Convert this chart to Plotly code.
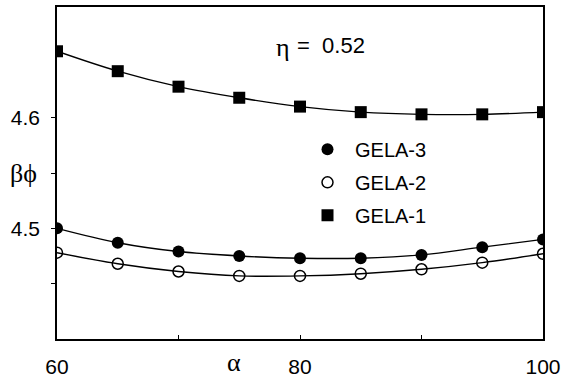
import plotly.graph_objects as go

# alpha (deg) and beta-phi for the three GELA configurations at eta = 0.52
alpha = [60, 65, 70, 75, 80, 85, 90, 95, 100]
gela1 = [4.660, 4.642, 4.628, 4.618, 4.610, 4.605, 4.603, 4.603, 4.605]
gela2 = [4.478, 4.468, 4.461, 4.457, 4.457, 4.459, 4.463, 4.469, 4.477]
gela3 = [4.500, 4.487, 4.479, 4.475, 4.473, 4.473, 4.476, 4.483, 4.490]

x_tickvals = [60, 70, 80, 90, 100]
x_ticktext = ["60", "", "80", "", "100"]
y_tickvals = [4.45, 4.5, 4.55, 4.6]
y_ticktext = ["", "4.5", "", "4.6"]

sans = "Liberation Sans, Arial, sans-serif"
serif = "Liberation Serif, Times New Roman, serif"

series = [
    ("GELA-3", gela3, dict(symbol="circle", size=12, color="black")),
    ("GELA-2", gela2, dict(symbol="circle-open", size=11, color="black",
                           line=dict(width=1.5, color="black"))),
    ("GELA-1", gela1, dict(symbol="square", size=12, color="black")),
]

fig = go.Figure()
for i, (name, ys, mk) in enumerate(series):
    fig.add_trace(go.Scatter(
        x=alpha, y=ys, mode="lines", line=dict(color="black", width=1.4, shape="spline"),
        showlegend=False, hoverinfo="skip"))
    fig.add_trace(go.Scatter(
        x=alpha, y=ys, mode="markers", name=name, marker=mk,
        legendgroup=f"g{i}", legendrank=i + 1))

fig.update_layout(
    width=566, height=383,
    margin=dict(l=57, r=21, t=5, b=40),
    paper_bgcolor="white", plot_bgcolor="white",
    font=dict(family=sans, size=20, color="black"),
    showlegend=True,
    legend=dict(
        x=0.50, y=0.63, xanchor="left", yanchor="top",
        bgcolor="rgba(0,0,0,0)", font=dict(family=sans, size=20),
        tracegroupgap=4, itemwidth=45,
    ),
    xaxis=dict(
        range=[60, 100], tickmode="array", tickvals=x_tickvals, ticktext=x_ticktext,
        ticks="inside", ticklen=4, tickcolor="black",
        showline=True, linecolor="black", linewidth=1.5, mirror=True,
        showgrid=False, zeroline=False, ticklabelstandoff=8,
        tickfont=dict(family=sans, size=21),
    ),
    yaxis=dict(
        range=[4.4, 4.7], tickmode="array", tickvals=y_tickvals, ticktext=y_ticktext,
        ticks="outside", ticklen=4, tickcolor="black",
        showline=True, linecolor="black", linewidth=1.5, mirror=True,
        showgrid=False, zeroline=False, ticklabelstandoff=7,
        tickfont=dict(family=sans, size=21),
    ),
    annotations=[
        dict(text="\u03b2\u03d5", xref="paper", yref="paper", x=-0.068, y=0.497,
             xanchor="center", yanchor="middle",
             showarrow=False, font=dict(family=serif, size=26)),
        dict(text="\u03b1", xref="paper", yref="paper", x=0.365, y=-0.07,
             xanchor="center", yanchor="middle",
             showarrow=False, font=dict(family=serif, size=26)),
        dict(text="\u03b7", xref="paper", yref="paper", x=0.465, y=0.878,
             xanchor="center", yanchor="middle",
             showarrow=False, font=dict(family=serif, size=26)),
        dict(text="=  0.52", xref="paper", yref="paper", x=0.49, y=0.885,
             xanchor="left", yanchor="middle",
             showarrow=False, font=dict(family=sans, size=22)),
    ],
)

fig.write_html("out.html")
